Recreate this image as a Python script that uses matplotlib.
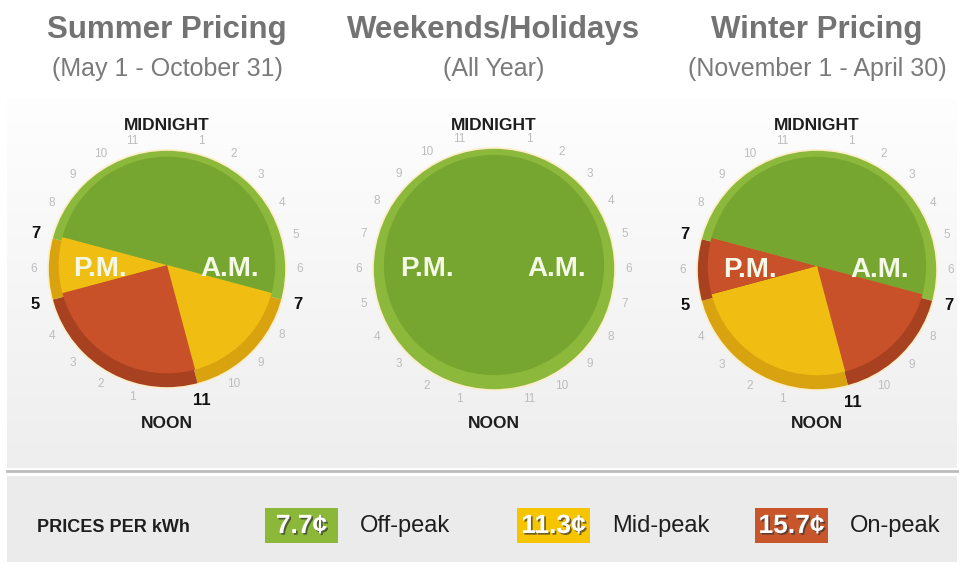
import numpy as np
import matplotlib.pyplot as plt
import matplotlib.patches as mpatches
import matplotlib.patheffects as pe
from matplotlib.colors import LinearSegmentedColormap

plt.rcParams['font.family'] = ['Liberation Sans', 'DejaVu Sans']

W, H = 964, 565

# hours per block, clockwise from midnight
summer_hours = [7, 4, 6, 2, 5]
summer_rates = ['off', 'mid', 'on', 'mid', 'off']
weekend_hours = [24]
weekend_rates = ['off']
winter_hours = [7, 4, 6, 2, 5]
winter_rates = ['off', 'on', 'mid', 'on', 'off']

titles = ['Summer Pricing', 'Weekends/Holidays', 'Winter Pricing']
subtitles = ['(May 1 - October 31)', '(All Year)', '(November 1 - April 30)']

price_rates = ['off', 'mid', 'on']
prices = ['7.7¢', '11.3¢', '15.7¢']
price_names = ['Off-peak', 'Mid-peak', 'On-peak']

inner_col = {'off': '#77a630', 'mid': '#f0bd12', 'on': '#c8512a'}
rim_col = {'off': '#8cb93c', 'mid': '#d9a30f', 'on': '#a8411f'}
box_col = {'off': '#8cb83a', 'mid': '#f6c500', 'on': '#c9552a'}

clocks = [
    (summer_hours, summer_rates, 167, 269, 119),
    (weekend_hours, weekend_rates, 494, 269, 121),
    (winter_hours, winter_rates, 817, 270, 120),
]
title_x = [167, 494, 817]

fig = plt.figure(figsize=(9.64, 5.65), dpi=100)
ax = fig.add_axes([0, 0, 1, 1])

# panel backgrounds
grad = np.linspace(0, 1, 256).reshape(-1, 1)
bg_cmap = LinearSegmentedColormap.from_list('bg', ['#fefefe', '#eeeeee'])
ax.imshow(grad, extent=(7, 957, 468, 98), cmap=bg_cmap, aspect='auto', zorder=0)
ax.plot([7, 957], [471, 471], color='#bcbcbc', lw=2, zorder=1)
ax.add_patch(mpatches.Rectangle((7, 476), 950, 86, fc='#ebebeb', ec='none', zorder=0))

for i, (hours, rates, cx, cy, r) in enumerate(clocks):
    ax.text(title_x[i], 30, titles[i], ha='center', va='center', fontsize=22.5,
            fontweight='bold', color='#737373')
    ax.text(title_x[i], 69, subtitles[i], ha='center', va='center', fontsize=18,
            color='#7a7a7a')

    # outer rim + inner face (y axis is inverted, so angles run clockwise)
    ax.pie(hours, colors=[rim_col[k] for k in rates], startangle=-90, counterclock=True,
           center=(cx, cy), radius=r, frame=True,
           wedgeprops=dict(linewidth=0.6, edgecolor=None))
    ax.pie(hours, colors=[inner_col[k] for k in rates], startangle=-90, counterclock=True,
           center=(cx, cy - 4), radius=r * 0.91, frame=True,
           wedgeprops=dict(linewidth=0))
    ax.add_patch(mpatches.Circle((cx, cy), r, fc='none', ec='#fbeec8', lw=1.2))

    ax.text(cx - 67, cy, 'P.M.', ha='center', va='center', fontsize=20,
            fontweight='bold', color='#f4f8e6')
    ax.text(cx + 63, cy, 'A.M.', ha='center', va='center', fontsize=20,
            fontweight='bold', color='#f4f8e6')

    ax.text(cx, cy - 144, 'MIDNIGHT', ha='center', va='center', fontsize=12.5,
            fontweight='bold', color='#1e1e1e')
    ax.text(cx, cy + 154, 'NOON', ha='center', va='center', fontsize=12.5,
            fontweight='bold', color='#1e1e1e')

    bounds = set(np.cumsum(hours)[:-1].tolist())
    for h in range(1, 24):
        if h == 12:
            continue
        a = np.radians(15 * h)
        if h in bounds:
            rr = r + 17
            ax.text(cx + rr * np.sin(a), cy - rr * np.cos(a), str(h % 12), ha='center',
                    va='center', fontsize=12, fontweight='bold', color='#111111')
        else:
            rr = r + 14
            ax.text(cx + rr * np.sin(a), cy - rr * np.cos(a), str(h % 12), ha='center',
                    va='center', fontsize=8.5, color='#bdbdbd')

# legend strip
ax.text(37, 527, 'PRICES PER kWh', ha='left', va='center', fontsize=13, fontweight='bold',
        color='#1e1e1e')
box_x = [265, 517, 755]
for i, k in enumerate(price_rates):
    ax.add_patch(mpatches.Rectangle((box_x[i], 508), 73, 35, fc=box_col[k], ec='none'))
    ax.text(box_x[i] + 36.5, 526, prices[i], ha='center', va='center', fontsize=19,
            fontweight='bold', color='white',
            path_effects=[pe.SimplePatchShadow(offset=(1.2, -1.2), shadow_rgbFace='#333333',
                                               alpha=0.7), pe.Normal()])
    ax.text(box_x[i] + 95, 526, price_names[i], ha='left', va='center', fontsize=17,
            color='#1e1e1e')

ax.set_xlim(0, W)
ax.set_ylim(H, 0)
ax.axis('off')
fig.savefig('out.png', dpi=100, facecolor='white')
